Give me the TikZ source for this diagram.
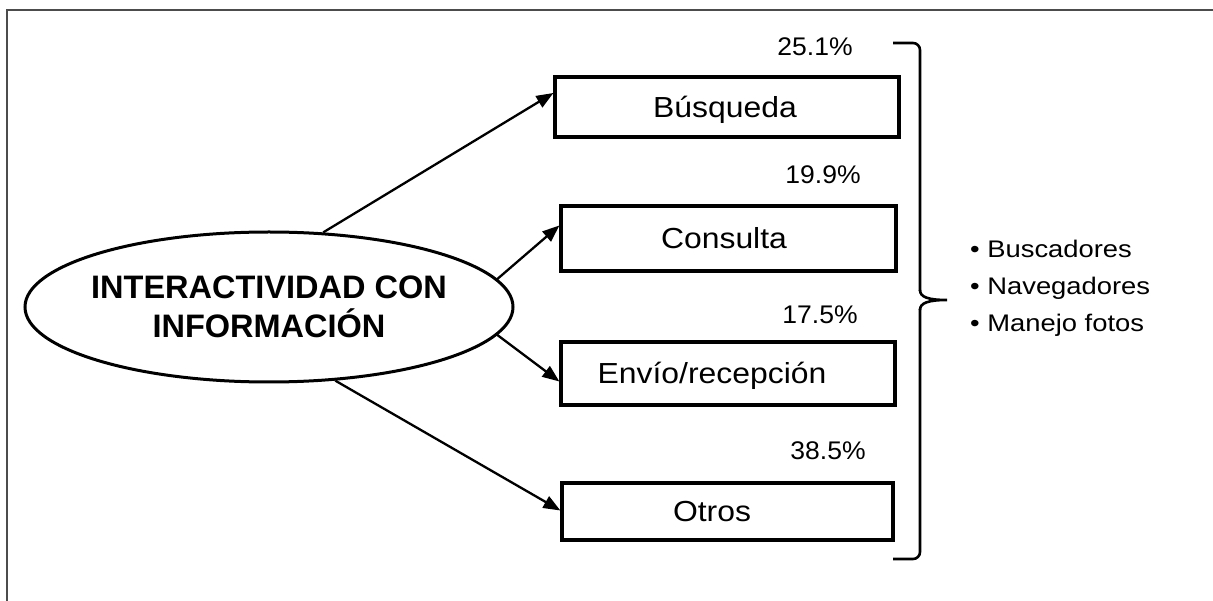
\documentclass[tikz,border=0pt]{standalone}
\usepackage{fontspec}
\setmainfont{Liberation Sans}
\usepackage{graphicx}
\usetikzlibrary{shapes.geometric,arrows.meta,calc}
\newcommand\hsc[2]{\scalebox{#1}[1]{#2}}
\begin{document}
\begin{tikzpicture}[x=1pt,y=-1pt,
  boxnode/.style={draw,line width=3.2pt,inner sep=0pt,text height=20.5pt,text depth=0pt,font=\fontsize{29}{34}\selectfont},
  arr/.style={line width=2.3pt,-{Triangle[length=17pt,width=13pt]}},
  pct/.style={font=\fontsize{25.5}{30}\selectfont,inner sep=0pt},
  item/.style={font=\fontsize{24}{28}\selectfont,anchor=base west,inner sep=0pt},
  frame/.style={draw=black!70,line width=2.6pt},
  bracepart/.style={line width=2.6pt}]
\useasboundingbox (0,0) rectangle (1213,601);
\draw[frame] (7,601) -- (7,10) -- (1213,10);

\node[draw,ellipse,line width=3pt,minimum width=488pt,minimum height=150pt,inner sep=0pt,align=center,
  font=\bfseries\fontsize{32.5}{39}\selectfont] (e) at (269,307)
  {\makebox[0pt]{INTERACTIVIDAD CON}\\\makebox[0pt]{INFORMACIÓN}};

\node[boxnode,minimum width=344pt,minimum height=60pt] (b1) at (727,107) {\hsc{1.1}{Búsqueda}\hspace*{4pt}};
\node[boxnode,minimum width=335pt,minimum height=65pt] (b2) at (728.5,238.5) {\hsc{1.1}{Consulta}\hspace*{9pt}};
\node[boxnode,minimum width=334pt,minimum height=63pt] (b3) at (728,373.5) {\hsc{1.1}{Envío/recepción}\hspace*{32pt}};
\node[boxnode,minimum width=331pt,minimum height=57pt] (b4) at (727.5,511.5) {\hsc{1.1}{Otros}\hspace*{31pt}};

\node[pct] (p1) at (815,47) {\hsc{1.04}{25.1\%}};
\node[pct] (p2) at (823,175) {\hsc{1.04}{19.9\%}};
\node[pct] (p3) at (820,315) {\hsc{1.04}{17.5\%}};
\node[pct] (p4) at (828,451) {\hsc{1.04}{38.5\%}};

\draw[arr] (e.54) -- ([yshift=14pt]b1.west);
\draw[arr] (e.7) -- ([yshift=13pt]b2.west);
\draw[arr] (e.-7) -- ([yshift=-8pt]b3.west);
\draw[arr] (e.-48) -- ([yshift=1pt]b4.west);

\draw[bracepart,rounded corners=7pt] (893,43) -- (920,43) -- (920,291);
\draw[bracepart] (920,290) .. controls (920,297) and (928,300) .. (947,300)
  .. controls (928,300) and (920,303) .. (920,310);
\draw[bracepart,rounded corners=7pt] (920,309) -- (920,559) -- (893,559);

\node[item] (i1) at (970,258) {\hsc{1.14}{• Buscadores}};
\node[item] (i2) at (970,295) {\hsc{1.14}{• Navegadores}};
\node[item] (i3) at (970,332) {\hsc{1.14}{• Manejo fotos}};
\end{tikzpicture}
\end{document}
